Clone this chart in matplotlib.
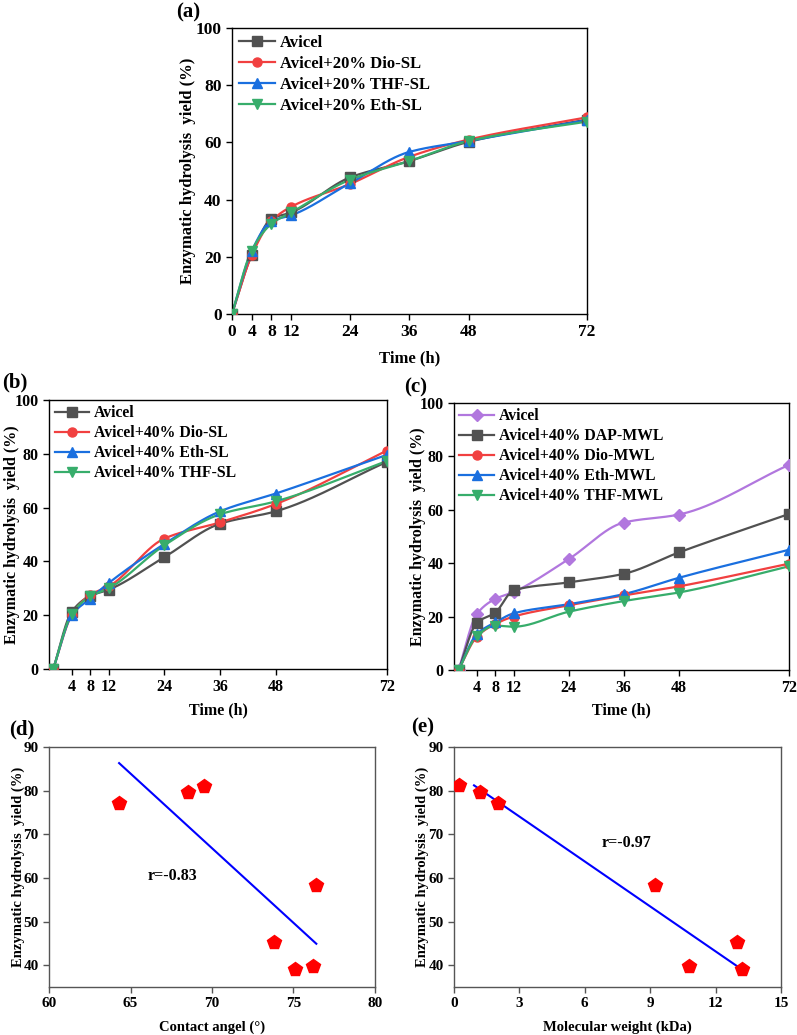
import numpy as np
import matplotlib
matplotlib.use("Agg")
import matplotlib.pyplot as plt

plt.rcParams['font.family'] = ['Liberation Serif', 'DejaVu Serif']
plt.rcParams['font.weight'] = 'bold'
plt.rcParams['axes.labelweight'] = 'bold'

# ---------------- data ----------------
time_h = [0, 4, 8, 12, 24, 36, 48, 72]
time_ticks_a = [0, 4, 8, 12, 24, 36, 48, 72]
time_ticks_bc = [4, 8, 12, 24, 36, 48, 72]

# panel (a)
a_labels = ["Avicel", "Avicel+20% Dio-SL", "Avicel+20% THF-SL", "Avicel+20% Eth-SL"]
a_avicel = [0, 20.7, 33.3, 35.5, 47.8, 53.5, 60.2, 68.0]
a_dio = [0, 20.5, 32.5, 37.5, 45.5, 55.0, 61.0, 68.8]
a_thf = [0, 22.0, 32.5, 34.5, 45.8, 56.7, 60.5, 67.8]
a_eth = [0, 22.2, 31.5, 35.5, 47.0, 53.5, 60.5, 67.3]

# panel (b)
b_labels = ["Avicel", "Avicel+40% Dio-SL", "Avicel+40% Eth-SL", "Avicel+40% THF-SL"]
b_avicel = [0, 21.3, 27.2, 29.5, 41.6, 54.0, 58.6, 77.0]
b_dio = [0, 20.0, 27.6, 30.7, 48.5, 54.5, 61.3, 81.2]
b_eth = [0, 20.0, 26.2, 32.0, 46.5, 58.6, 65.2, 79.6]
b_thf = [0, 20.5, 27.0, 30.0, 46.0, 57.5, 62.3, 77.3]

# panel (c)
c_labels = ["Avicel", "Avicel+40% DAP-MWL", "Avicel+40% Dio-MWL",
            "Avicel+40% Eth-MWL", "Avicel+40% THF-MWL"]
c_avicel = [0, 21.0, 26.6, 29.2, 41.5, 55.2, 58.2, 76.8]
c_dap = [0, 17.7, 21.5, 29.8, 32.8, 36.0, 44.0, 58.4]
c_dio = [0, 12.5, 17.2, 20.0, 24.2, 27.9, 31.3, 39.8]
c_eth = [0, 13.5, 17.8, 21.2, 24.6, 28.4, 34.5, 45.0]
c_thf = [0, 12.8, 16.6, 16.2, 21.8, 25.8, 29.0, 38.8]

# panel (d)
d_angle = [64.3, 68.5, 69.5, 76.4, 73.8, 75.1, 76.2]
d_yield = [77.1, 79.7, 81.1, 58.4, 45.2, 39.1, 39.8]
d_r_text = "r=-0.83"

# panel (e)
e_mw = [0.24, 1.2, 2.0, 9.2, 13.0, 10.8, 13.2]
e_yield = [81.2, 79.7, 77.1, 58.4, 45.2, 39.8, 39.1]
e_fit_x = [0.92, 13.24]
e_fit_y = [81.2, 38.9]
e_r_text = "r=-0.97"

# ---------------- styles ----------------
C_BLACK = '#515151'
C_RED = '#F14040'
C_BLUE = '#1A6FDF'
C_GREEN = '#37AD6B'
C_PURPLE = '#B177DE'


def smooth(x, y, n=400):
    """monotone (PCHIP) cubic through the points - only used to draw the curve"""
    x = np.asarray(x, float)
    y = np.asarray(y, float)
    h = np.diff(x)
    delta = np.diff(y) / h
    m = np.zeros_like(y)
    for k in range(1, len(x) - 1):
        if delta[k - 1] * delta[k] > 0:
            w1 = 2 * h[k] + h[k - 1]
            w2 = h[k] + 2 * h[k - 1]
            m[k] = (w1 + w2) / (w1 / delta[k - 1] + w2 / delta[k])
    m[0] = delta[0]
    m[-1] = delta[-1]
    xs = np.linspace(x[0], x[-1], n)
    idx = np.clip(np.searchsorted(x, xs) - 1, 0, len(x) - 2)
    t = (xs - x[idx]) / h[idx]
    h00 = 2 * t ** 3 - 3 * t ** 2 + 1
    h10 = t ** 3 - 2 * t ** 2 + t
    h01 = -2 * t ** 3 + 3 * t ** 2
    h11 = t ** 3 - t ** 2
    ys = h00 * y[idx] + h10 * h[idx] * m[idx] + h01 * y[idx + 1] + h11 * h[idx] * m[idx + 1]
    return xs, ys


def series(ax, x, y, color, marker, label, ms=6.5):
    xs, ys = smooth(x, y)
    ax.plot(xs, ys, color=color, lw=1.6, zorder=2)
    ax.plot(x, y, linestyle='none', marker=marker, color=color, ms=ms, zorder=3)
    ax.plot([], [], color=color, lw=1.6, marker=marker, ms=ms, label=label)


def style_axes(ax, fs, spine_color='black'):
    for s in ax.spines.values():
        s.set_color(spine_color)
        s.set_linewidth(1.0)
    ax.tick_params(direction='out', length=4, width=1, labelsize=fs,
                   top=False, right=False, color=spine_color)
    for lab in ax.get_xticklabels() + ax.get_yticklabels():
        lab.set_fontweight('bold')


def labels(ax, xl, yl, fs, xpos, ypos):
    ax.set_xlabel(xl, fontsize=fs, fontweight='bold')
    ax.set_ylabel(yl, fontsize=fs, fontweight='bold')
    ax.xaxis.set_label_coords(0.5, xpos)
    ax.xaxis.label.set_va('center')
    ax.yaxis.set_label_coords(ypos, 0.5)
    ax.yaxis.label.set_va('center')


fig = plt.figure(figsize=(7.97, 10.35), dpi=100)

YLABEL = "Enzymatic hydrolysis  yield (%)"

# ---- (a)
ax = fig.add_axes([0.291, 0.6966, 0.4455, 0.2763])
series(ax, time_h, a_avicel, C_BLACK, 's', a_labels[0])
series(ax, time_h, a_dio, C_RED, 'o', a_labels[1])
series(ax, time_h, a_thf, C_BLUE, '^', a_labels[2])
series(ax, time_h, a_eth, C_GREEN, 'v', a_labels[3])
ax.set_xlim(0, 72)
ax.set_ylim(0, 100)
ax.set_xticks(time_ticks_a)
ax.set_yticks([0, 20, 40, 60, 80, 100])
style_axes(ax, fs=12.5)
labels(ax, "Time (h)", YLABEL, 12, -0.154, -0.124)
ax.legend(loc='upper left', frameon=False, prop={'weight': 'bold', 'size': 12},
          handlelength=2.2, handletextpad=0.3, labelspacing=0.3, borderaxespad=0.2,
          borderpad=0.2)
fig.text(0.2515, 0.988, "(a)", fontsize=15, fontweight='bold', ha='right', va='center')

# ---- (b)
ax = fig.add_axes([0.0615, 0.3536, 0.424, 0.26])
series(ax, time_h, b_avicel, C_BLACK, 's', b_labels[0])
series(ax, time_h, b_dio, C_RED, 'o', b_labels[1])
series(ax, time_h, b_eth, C_BLUE, '^', b_labels[2])
series(ax, time_h, b_thf, C_GREEN, 'v', b_labels[3])
ax.set_xlim(-0.9, 72)
ax.set_ylim(0, 100)
ax.set_xticks(time_ticks_bc)
ax.set_yticks([0, 20, 40, 60, 80, 100])
style_axes(ax, fs=11.5)
labels(ax, "Time (h)", YLABEL, 11.5, -0.152, -0.109)
ax.legend(loc='upper left', frameon=False, prop={'weight': 'bold', 'size': 11.3},
          handlelength=2.2, handletextpad=0.3, labelspacing=0.25, borderaxespad=0.15,
          borderpad=0.2)
fig.text(0.003, 0.63, "(b)", fontsize=15, fontweight='bold', ha='left', va='center')

# ---- (c)
ax = fig.add_axes([0.5696, 0.3527, 0.4203, 0.258])
series(ax, time_h, c_avicel, C_PURPLE, 'D', c_labels[0], ms=6)
series(ax, time_h, c_dap, C_BLACK, 's', c_labels[1])
series(ax, time_h, c_dio, C_RED, 'o', c_labels[2])
series(ax, time_h, c_eth, C_BLUE, '^', c_labels[3])
series(ax, time_h, c_thf, C_GREEN, 'v', c_labels[4])
ax.set_xlim(-1.0, 72)
ax.set_ylim(0, 100)
ax.set_xticks(time_ticks_bc)
ax.set_yticks([0, 20, 40, 60, 80, 100])
style_axes(ax, fs=11.5)
labels(ax, "Time (h)", YLABEL, 11.5, -0.152, -0.107)
ax.legend(loc='upper left', frameon=False, prop={'weight': 'bold', 'size': 11.3},
          handlelength=2.2, handletextpad=0.3, labelspacing=0.25, borderaxespad=0.15,
          borderpad=0.2)
fig.text(0.507, 0.626, "(c)", fontsize=15, fontweight='bold', ha='left', va='center')

# ---- (d)
ax = fig.add_axes([0.0615, 0.0464, 0.409, 0.2319])
fit = np.polyfit(d_angle, d_yield, 1)
fx = np.array([min(d_angle), max(d_angle)])
ax.plot(fx, np.polyval(fit, fx), color='#0000FF', lw=1.5, zorder=2)
ax.plot(d_angle, d_yield, linestyle='none', marker='p', color='#FF0000', ms=10, zorder=3)
ax.set_xlim(60, 80)
ax.set_ylim(35, 90)
ax.set_xticks([60, 65, 70, 75, 80])
ax.set_yticks([40, 50, 60, 70, 80, 90])
style_axes(ax, fs=11, spine_color='#555555')
labels(ax, "Contact angel (°)", YLABEL, 10.5, -0.167, -0.095)
ax.text(67.6, 60.4, d_r_text, fontsize=11.5, fontweight='bold', ha='center', va='center')
fig.text(0.011, 0.295, "(d)", fontsize=15, fontweight='bold', ha='left', va='center')

# ---- (e)
ax = fig.add_axes([0.5696, 0.0464, 0.4103, 0.2319])
ax.plot(e_fit_x, e_fit_y, color='#0000FF', lw=1.5, zorder=2)
ax.plot(e_mw, e_yield, linestyle='none', marker='p', color='#FF0000', ms=10, zorder=3)
ax.set_xlim(0, 15)
ax.set_ylim(35, 90)
ax.set_xticks([0, 3, 6, 9, 12, 15])
ax.set_yticks([40, 50, 60, 70, 80, 90])
style_axes(ax, fs=11, spine_color='#555555')
labels(ax, "Molecular weight (kDa)", YLABEL, 10.5, -0.167, -0.098)
ax.text(7.92, 68.0, e_r_text, fontsize=11.5, fontweight='bold', ha='center', va='center')
fig.text(0.516, 0.297, "(e)", fontsize=15, fontweight='bold', ha='left', va='center')

fig.savefig("out.png", dpi=100)
